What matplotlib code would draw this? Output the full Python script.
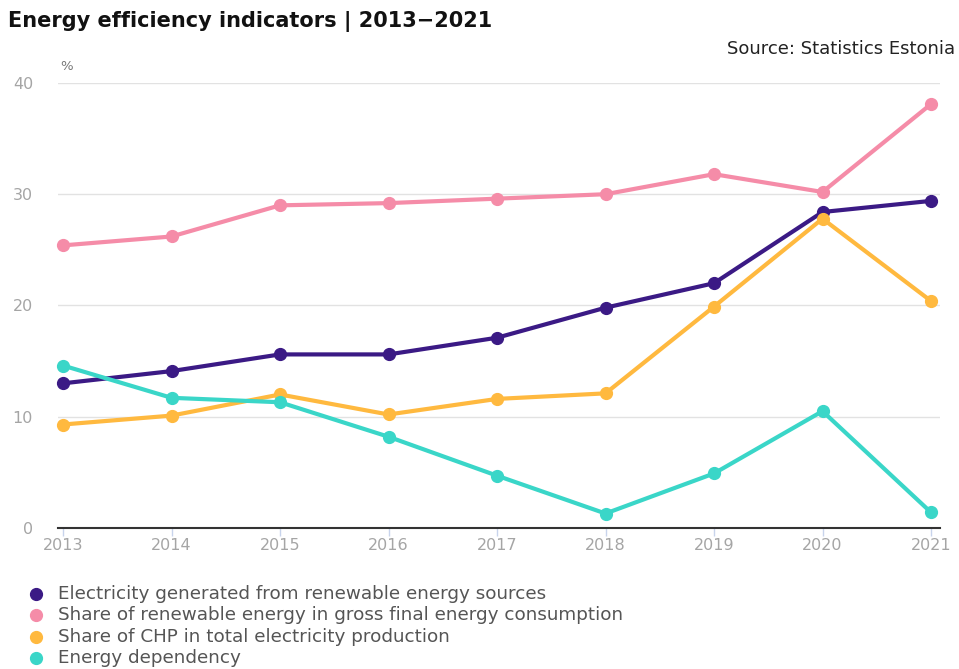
import matplotlib.pyplot as plt
from matplotlib.lines import Line2D

plt.rcParams["font.family"] = ["DejaVu Sans"]

years = [2013, 2014, 2015, 2016, 2017, 2018, 2019, 2020, 2021]
renewable_electricity = [13.0, 14.1, 15.6, 15.6, 17.1, 19.8, 22.0, 28.4, 29.4]
renewable_share = [25.4, 26.2, 29.0, 29.2, 29.6, 30.0, 31.8, 30.2, 38.1]
chp_share = [9.3, 10.1, 12.0, 10.2, 11.6, 12.1, 19.9, 27.8, 20.4]
energy_dependency = [14.6, 11.7, 11.3, 8.2, 4.7, 1.3, 4.9, 10.5, 1.4]

labels = [
    "Electricity generated from renewable energy sources",
    "Share of renewable energy in gross final energy consumption",
    "Share of CHP in total electricity production",
    "Energy dependency",
]
colors = ["#3b1a85", "#f58ca8", "#ffb93f", "#3ad6c8"]
series = [renewable_electricity, renewable_share, chp_share, energy_dependency]

fig = plt.figure(figsize=(9.59, 6.69), dpi=100)
ax = fig.add_axes([0.0605, 0.2108, 0.9197, 0.6652])

for vals, col in zip(series, colors):
    ax.plot(years, vals, color=col, lw=3, marker="o", ms=8.5, clip_on=False, zorder=3)

ax.set_xlim(2012.954, 2021.083)
ax.set_ylim(0, 40)
ax.set_yticks([0, 10, 20, 30, 40])
ax.set_xticks(years)
ax.grid(axis="y", color="#e2e2e2", lw=1)
ax.set_axisbelow(True)
for s in ["top", "right", "left"]:
    ax.spines[s].set_visible(False)
ax.spines["bottom"].set_color("#333333")
ax.spines["bottom"].set_linewidth(1.5)
ax.spines["bottom"].set_zorder(4)
ax.tick_params(axis="y", length=0, pad=18, labelsize=11.5, labelcolor="#a5a5a5")
ax.tick_params(axis="x", length=6, width=1, color="#c8d4ec", labelsize=11.5,
               labelcolor="#a5a5a5", pad=1)

ax.text(0.003, 1.03, "%", transform=ax.transAxes, fontsize=9.5, color="#777777", ha="left")

fig.text(0.008, 0.968, "Energy efficiency indicators | 2013\u22122021", fontsize=15,
         fontweight="bold", color="#111111", ha="left", va="center")
fig.text(0.996, 0.927, "Source: Statistics Estonia", fontsize=13,
         color="#222222", ha="right", va="center")

leg_y = [594, 615, 637, 658]
for lab, col, yy in zip(labels, colors, leg_y):
    fy = 1 - yy / 669
    fig.add_artist(Line2D([36 / 959], [fy], marker="o", ms=8.5, color=col, ls="none",
                          transform=fig.transFigure))
    fig.text(58 / 959, fy, lab, fontsize=13.2, color="#555555", ha="left", va="center")

fig.savefig("out.png", dpi=100)
